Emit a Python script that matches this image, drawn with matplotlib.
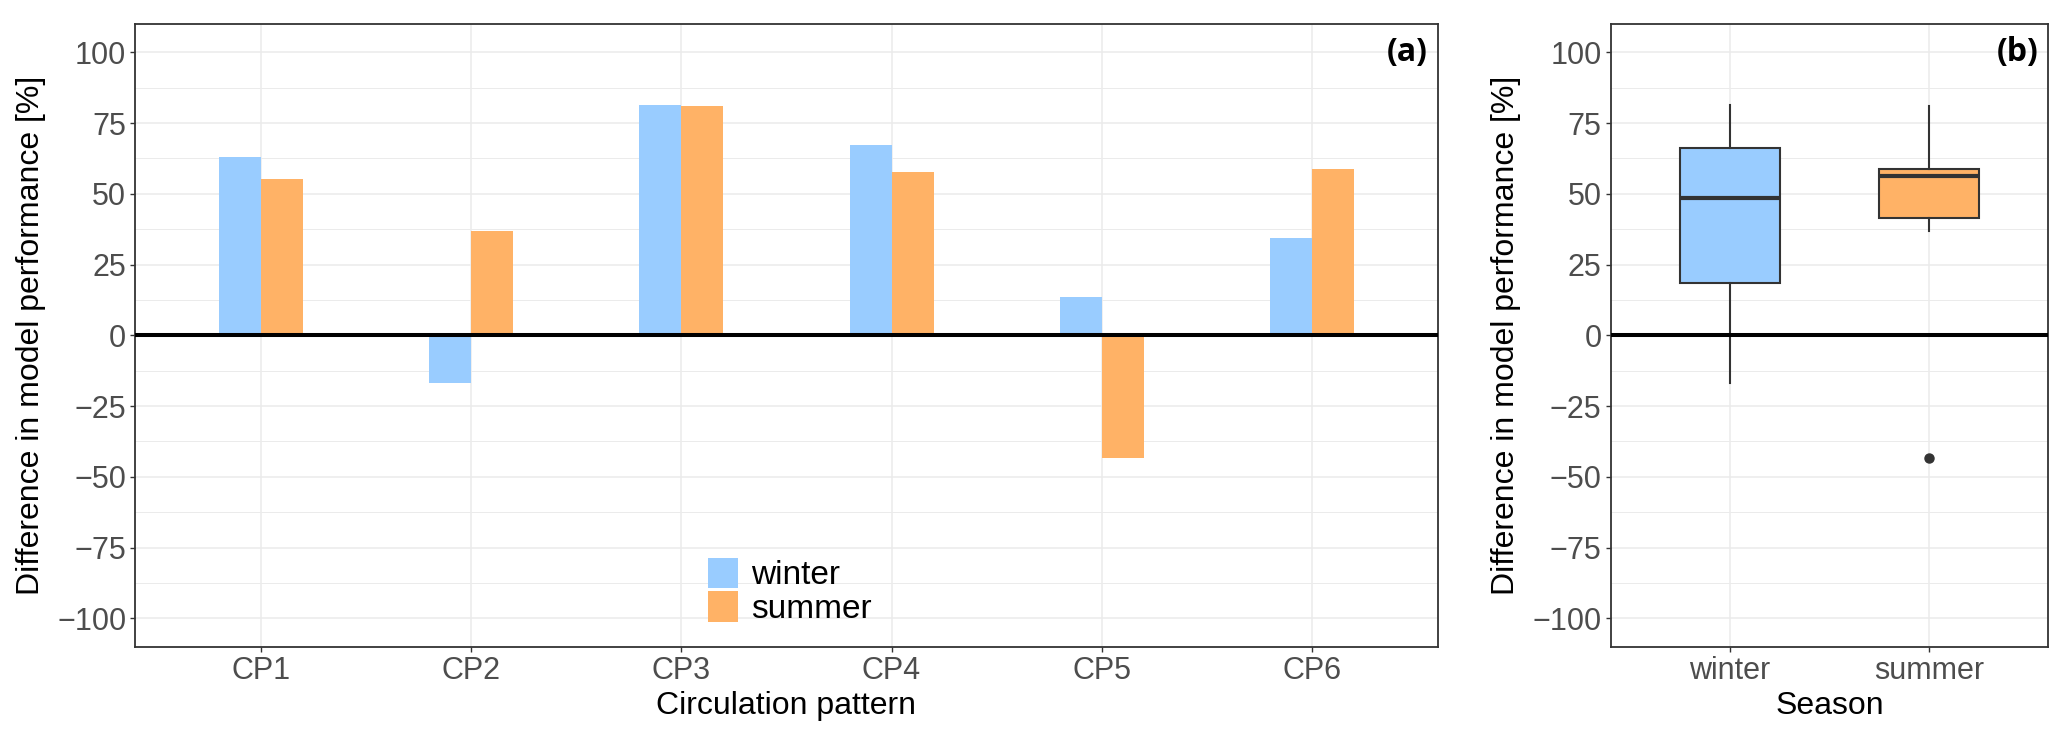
import numpy as np
import matplotlib.pyplot as plt
from matplotlib.ticker import MultipleLocator

# data
patterns = ["CP1", "CP2", "CP3", "CP4", "CP5", "CP6"]
winter = [63.0, -16.7, 81.3, 67.3, 13.4, 34.4]
summer = [55.1, 36.7, 81.0, 57.7, -43.4, 58.9]
seasons = ["winter", "summer"]
yticks = [-100, -75, -50, -25, 0, 25, 50, 75, 100]

blue = "#99CCFF"
orange = "#FFB266"
dark = "#333333"
grid = "#EBEBEB"

plt.rcParams['font.family'] = ['Liberation Sans', 'DejaVu Sans']


def style_axes(ax):
    ax.set_ylim(-110, 110)
    ax.set_yticks(yticks)
    ax.yaxis.set_minor_locator(MultipleLocator(12.5))
    ax.grid(which="major", color=grid, lw=1.1, zorder=0)
    ax.grid(which="minor", axis="y", color=grid, lw=0.7, zorder=0)
    ax.set_axisbelow(True)
    ax.tick_params(which="major", length=3.6, width=1.0, color=dark,
                   labelsize=22, labelcolor="#4D4D4D", pad=3)
    ax.tick_params(which="minor", length=0)
    for s in ax.spines.values():
        s.set_color(dark)
        s.set_linewidth(1.3)
    ax.axhline(0, color="black", lw=2.9, zorder=4)
    ax.set_ylabel("Difference in model performance [%]", fontsize=23, labelpad=8)


def panel_tag(ax, tag):
    ax.annotate(tag, xy=(1, 100), xycoords=("axes fraction", "data"),
                xytext=(-7, 0), textcoords="offset points", ha="right", va="center",
                fontsize=23, fontweight="bold", family=["Open Sans", "DejaVu Sans"])


fig = plt.figure(figsize=(20.67, 7.43), dpi=100)
ax1 = fig.add_axes([0.0655, 0.1296, 0.63, 0.8381])
ax2 = fig.add_axes([0.7792, 0.1296, 0.2118, 0.8381])

# (a) bars per circulation pattern
x = np.arange(1, len(patterns) + 1)
ax1.bar(x - 0.1, winter, width=0.2, color=blue, label="winter", zorder=2)
ax1.bar(x + 0.1, summer, width=0.2, color=orange, label="summer", zorder=2)
ax1.set_xlim(0.4, len(patterns) + 0.6)
ax1.set_xticks(x)
ax1.set_xticklabels(patterns)
style_axes(ax1)
ax1.set_xlabel("Circulation pattern", fontsize=23, labelpad=4)
ax1.legend(loc="lower left", bbox_to_anchor=(0.4398, 0.0348), frameon=False,
           fontsize=24, handlelength=0.9, handleheight=1.04, labelspacing=0.0,
           handletextpad=0.4, borderpad=0, borderaxespad=0)
panel_tag(ax1, "(a)")

# (b) boxplot per season
bp = ax2.boxplot([winter, summer], positions=[1, 2], widths=0.5, patch_artist=True,
                 whis=1.5, showcaps=False,
                 boxprops=dict(edgecolor=dark, linewidth=1.5),
                 medianprops=dict(color=dark, linewidth=3),
                 whiskerprops=dict(color=dark, linewidth=1.5),
                 flierprops=dict(marker="o", markerfacecolor=dark, markeredgecolor=dark,
                                 markersize=6.5))
for patch, c in zip(bp["boxes"], [blue, orange]):
    patch.set_facecolor(c)
ax2.set_xlim(0.4, 2.6)
ax2.set_xticks([1, 2])
ax2.set_xticklabels(seasons)
style_axes(ax2)
ax2.set_xlabel("Season", fontsize=23, labelpad=4)
panel_tag(ax2, "(b)")

fig.savefig("out.png", dpi=100)
